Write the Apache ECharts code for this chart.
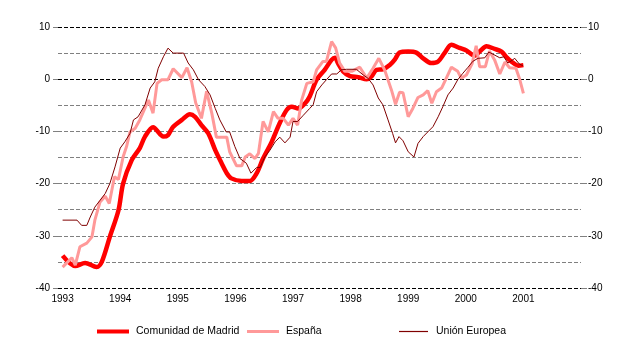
<!DOCTYPE html>
<html>
<head>
<meta charset="utf-8">
<script src="https://cdn.jsdelivr.net/npm/echarts@6/dist/echarts.min.js"></script>
<style>
html,body{margin:0;padding:0;background:#fff;}
#chart{width:640px;height:359px;}
</style>
</head>
<body>
<div id="chart"></div>
<script>
// Tick labels
const yearTicks = [1993, 1994, 1995, 1996, 1997, 1998, 1999, 2000, 2001];
const seriesNames = ['Comunidad de Madrid', 'España', 'Unión Europea'];

// Comunidad de Madrid (time in decimal years, value)
const madridT = [1993.00,1993.22,1993.39,1993.59,1993.68,1993.82,1993.97,1994.05,1994.20,1994.34,1994.43,1994.57,1994.75,1994.83,1994.92,1995.07,1995.21,1995.30,1995.41,1995.53,1995.65,1995.76,1995.85,1995.93,1996.11,1996.25,1996.37,1996.48,1996.63,1996.77,1996.89,1996.98,1997.09,1997.21,1997.29,1997.41,1997.55,1997.67,1997.73,1997.78,1997.87,1997.99,1998.13,1998.28,1998.36,1998.45,1998.56,1998.68,1998.77,1998.85,1999.00,1999.14,1999.26,1999.40,1999.52,1999.63,1999.75,1999.89,2000.01,2000.15,2000.24,2000.36,2000.50,2000.62,2000.70,2000.79,2000.91,2001.00];
const madridV = [-33.8,-35.8,-35.2,-36.0,-35.0,-30.2,-25.1,-20.0,-15.5,-13.2,-11.0,-9.2,-11.0,-10.7,-9.1,-7.8,-6.7,-7.2,-8.8,-10.4,-13.6,-16.1,-18.0,-19.0,-19.5,-19.5,-18.0,-15.2,-12.0,-8.4,-5.9,-5.3,-5.6,-4.6,-3.3,-0.1,1.8,3.7,4.1,3.1,1.5,0.6,0.4,0.0,0.5,1.8,1.9,2.7,3.8,5.1,5.3,5.1,4.0,3.1,3.4,5.0,6.6,6.0,5.5,4.5,5.3,6.3,5.8,5.3,4.3,3.4,2.6,2.7];

// España
const espanaT = [1993.00,1993.16,1993.22,1993.30,1993.42,1993.51,1993.56,1993.65,1993.74,1993.81,1993.90,1993.97,1994.05,1994.11,1994.17,1994.26,1994.34,1994.49,1994.57,1994.64,1994.72,1994.83,1994.92,1995.07,1995.16,1995.24,1995.31,1995.41,1995.50,1995.59,1995.67,1995.85,1995.90,1996.02,1996.11,1996.17,1996.25,1996.34,1996.40,1996.48,1996.57,1996.66,1996.74,1996.83,1996.92,1997.00,1997.08,1997.15,1997.24,1997.35,1997.41,1997.52,1997.58,1997.67,1997.74,1997.81,1997.90,1998.02,1998.16,1998.28,1998.39,1998.49,1998.59,1998.71,1998.78,1998.85,1998.91,1999.00,1999.08,1999.17,1999.26,1999.34,1999.41,1999.49,1999.58,1999.65,1999.75,1999.86,1999.92,2000.01,2000.11,2000.18,2000.24,2000.34,2000.41,2000.50,2000.59,2000.68,2000.76,2000.87,2000.93,2001.00];
const espanaV = [-36.0,-34.2,-35.6,-32.1,-31.4,-30.2,-27.0,-23.5,-22.4,-23.8,-18.7,-19.2,-14.9,-12.9,-10.1,-9.4,-7.8,-4.0,-6.5,-0.8,-0.1,-0.1,2.0,0.3,2.2,-0.5,-4.5,-7.5,-2.3,-6.5,-11.1,-11.1,-13.9,-16.6,-16.6,-14.9,-14.3,-15.2,-14.2,-8.1,-10.1,-6.2,-7.5,-7.5,-8.8,-7.5,-8.8,-4.0,-0.8,-0.5,1.8,3.4,3.4,7.2,6.0,3.1,1.5,1.5,2.3,0.2,2.1,4.0,1.8,-2.1,-4.8,-2.5,-2.6,-7.2,-5.6,-3.5,-3.0,-2.2,-4.6,-2.4,-1.7,-0.1,2.3,1.5,0.2,0.8,3.0,6.4,2.4,2.4,5.4,3.7,1.0,3.3,2.2,2.1,0.2,-2.7];

// Unión Europea
const ueT = [1993.00,1993.25,1993.33,1993.42,1993.48,1993.56,1993.65,1993.74,1993.82,1993.91,1994.00,1994.08,1994.17,1994.23,1994.31,1994.43,1994.52,1994.60,1994.66,1994.75,1994.83,1994.92,1995.10,1995.18,1995.27,1995.36,1995.47,1995.56,1995.65,1995.73,1995.84,1995.90,1995.99,1996.08,1996.19,1996.27,1996.37,1996.43,1996.51,1996.60,1996.69,1996.77,1996.86,1996.95,1997.00,1997.08,1997.18,1997.29,1997.35,1997.41,1997.50,1997.58,1997.67,1997.76,1997.84,1997.93,1998.10,1998.22,1998.30,1998.39,1998.48,1998.56,1998.65,1998.73,1998.78,1998.84,1998.91,1999.00,1999.10,1999.17,1999.26,1999.34,1999.43,1999.52,1999.60,1999.69,1999.78,1999.86,1999.95,2000.04,2000.12,2000.21,2000.33,2000.40,2000.47,2000.59,2000.66,2000.73,2000.80,2000.85,2000.93,2000.99];
const ueV = [-27.0,-27.0,-28.0,-28.0,-26.4,-24.5,-23.2,-21.9,-20.0,-16.8,-13.2,-12.0,-10.4,-7.8,-7.2,-4.9,-1.7,-0.5,2.1,4.3,5.95,5.0,5.0,3.1,1.8,-0.1,-1.4,-3.0,-5.6,-7.8,-10.1,-10.1,-12.9,-15.2,-16.1,-18.0,-16.9,-16.9,-14.9,-13.6,-12.0,-11.1,-12.2,-11.1,-8.1,-8.1,-6.9,-5.6,-4.9,-2.4,-1.1,-0.1,1.0,1.0,1.8,1.9,1.9,0.8,0.2,-1.1,-3.6,-4.9,-7.8,-10.4,-12.2,-11.0,-11.8,-13.9,-14.9,-12.3,-11.0,-10.1,-9.1,-7.2,-5.3,-3.0,-1.7,-0.1,1.15,2.3,3.4,4.0,4.1,5.2,4.8,4.1,4.3,3.1,3.6,4.0,2.9,2.6];

const zip = (t, v) => t.map((x, i) => [x, v[i]]);

const chart = echarts.init(document.getElementById('chart'), null, {renderer: 'canvas'});
const FONT = 'Liberation Sans, Arial, sans-serif';
const GRAY = '#808080';

const yBase = {
  type: 'value', min: -40, max: 10, interval: 10,
  axisLine: {show: false},
  axisLabel: {color: '#000', fontSize: 10, fontFamily: FONT},
};

chart.setOption({
  animation: false,
  backgroundColor: '#fff',
  grid: {left: 58, right: 59, top: 27, bottom: 71, containLabel: false},
  xAxis: {
    type: 'value', min: 1992.92, max: 2002.0,
    axisLine: {show: false}, axisTick: {show: false}, splitLine: {show: false},
    axisLabel: {
      customValues: yearTicks, color: '#000', fontSize: 10, fontFamily: FONT, margin: 6,
      formatter: v => String(Math.round(v))
    }
  },
  yAxis: [
    Object.assign({}, yBase, {
      position: 'left',
      axisTick: {show: true, length: 5, lineStyle: {color: GRAY}},
      axisLabel: Object.assign({}, yBase.axisLabel, {margin: 8}),
      splitLine: {show: true, lineStyle: {type: [4, 2], width: 1, color: ['#000', GRAY, GRAY, GRAY, '#000', '#000']}},
      minorTick: {show: false, splitNumber: 2},
      minorSplitLine: {show: true, lineStyle: {type: [4, 2], width: 1, color: GRAY}}
    }),
    Object.assign({}, yBase, {
      position: 'right',
      axisTick: {show: true, length: 6, lineStyle: {color: GRAY}},
      axisLabel: Object.assign({}, yBase.axisLabel, {margin: 7}),
      splitLine: {show: false}
    })
  ],
  legend: [
    {data: [seriesNames[0]], left: 97, top: 326, padding: 0, icon: 'rect', itemWidth: 32, itemHeight: 4,
     textStyle: {color: '#000', fontSize: 10.5, fontFamily: FONT, padding: [0, 0, 0, 2]}},
    {data: [seriesNames[1]], left: 247, top: 326, padding: 0, icon: 'rect', itemWidth: 32, itemHeight: 3,
     textStyle: {color: '#000', fontSize: 10.5, fontFamily: FONT, padding: [0, 0, 0, 2]}},
    {data: [seriesNames[2]], left: 399, top: 326, padding: 0, icon: 'rect', itemWidth: 29, itemHeight: 1.2,
     textStyle: {color: '#000', fontSize: 10.5, fontFamily: FONT, padding: [0, 0, 0, 3]}}
  ],
  series: [
    {name: seriesNames[0], type: 'line', data: zip(madridT, madridV), showSymbol: false, symbol: 'none',
     smooth: 0.3, lineStyle: {color: '#ff0000', width: 4.5}, itemStyle: {color: '#ff0000'}, z: 2},
    {name: seriesNames[1], type: 'line', data: zip(espanaT, espanaV), showSymbol: false, symbol: 'none',
     lineStyle: {color: '#ff9999', width: 3}, itemStyle: {color: '#ff9999'}, z: 3},
    {name: seriesNames[2], type: 'line', data: zip(ueT, ueV), showSymbol: false, symbol: 'none',
     lineStyle: {color: '#800000', width: 1}, itemStyle: {color: '#800000'}, z: 4}
  ]
});
</script>
</body>
</html>
